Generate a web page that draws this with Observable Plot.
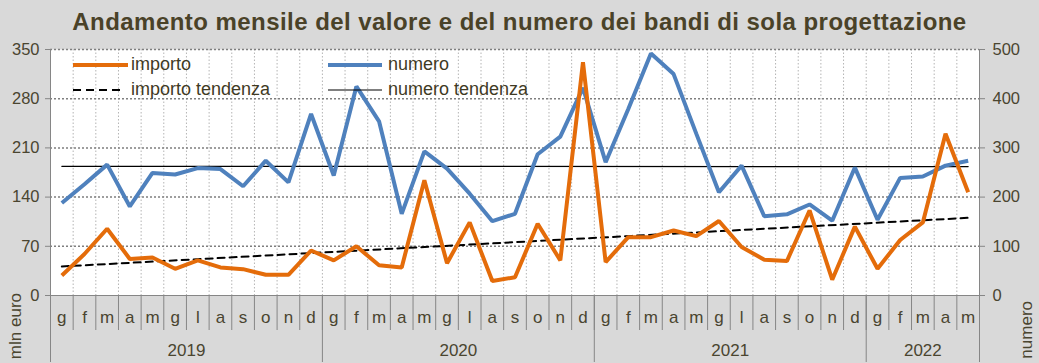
<!DOCTYPE html>
<html>
<head>
<meta charset="utf-8">
<script src="https://cdn.jsdelivr.net/npm/d3@7"></script>
<script src="https://cdn.jsdelivr.net/npm/@observablehq/plot@0.6"></script>
<style>
  html, body { margin: 0; padding: 0; background: #d9d9d9; }
  #wrap { position: relative; width: 1039px; height: 363px; overflow: hidden; background: #d9d9d9; font-family: "Liberation Sans", Arial, sans-serif; color: #4a4530; }
  #title { height: 40px; line-height: 44px; text-align: center; font-weight: bold; font-size: 24px; letter-spacing: 0.45px; color: #4a4228; white-space: nowrap; }
  .leg { position: absolute; font-size: 18px; color: #3f3a24; white-space: nowrap; }
  .sw { position: absolute; }
  .ylab { position: absolute; font-size: 17px; line-height: 18px; color: #4a4530; writing-mode: vertical-rl; transform: rotate(180deg); white-space: nowrap; }
</style>
</head>
<body>
<div id="wrap">
  <div id="title">Andamento mensile del valore e del numero dei bandi di sola progettazione</div>
  <div id="chart"></div>
</div>
<script>
// ---- data ----
const monthLetters = ["g","f","m","a","m","g","l","a","s","o","n","d"];
const years = ["2019","2020","2021","2022"];
const monthsPerYear = [12, 12, 12, 5];
// importo (mln euro), Jan 2019 .. May 2022
const importo = [28.5, 59, 95, 52, 54, 38, 50, 40, 37.5, 29.5, 29.5, 64,
                 50, 70, 43, 40, 164, 46, 104, 20.5, 26, 102, 50, 332,
                 47.5, 83, 83, 92.5, 84.5, 106, 69, 51, 49, 121, 22.5, 98,
                 38, 79, 104, 230, 147];
// numero dei bandi
const numero = [188, 226, 266, 181, 249, 246, 259, 257, 222, 274, 230, 369,
                244, 425, 354, 166, 293, 258, 207, 151, 166, 287, 323, 422,
                271, 379, 492, 450, 329, 210, 264, 161, 165, 185, 152, 260,
                154, 239, 242, 264, 274];
// trend lines (first and last month values)
const importoTrend = [41.3, 110.5];
const numeroTrend = [262.5, 262];
const leftTicks = [0, 70, 140, 210, 280, 350];
const rightTicks = [0, 100, 200, 300, 400, 500];

// ---- build ----
const n = importo.length;
const idx = d3.range(n);
const monthLabels = [];
const yearStarts = [];
const yearCenters = [];
let pos = 0;
monthsPerYear.forEach((c, yi) => {
  yearStarts.push(pos - 0.5);
  yearCenters.push(pos + (c - 1) / 2);
  for (let j = 0; j < c; j++) monthLabels.push(monthLetters[j]);
  pos += c;
});
yearStarts.push(pos - 0.5);
const boundaries = d3.range(n + 1).map(i => i - 0.5);
const k = 350 / 500;

const impData = idx.map(i => ({i, v: importo[i]}));
const numData = idx.map(i => ({i, v: numero[i] * k}));
const impTrendData = [{i: 0, v: importoTrend[0]}, {i: n - 1, v: importoTrend[1]}];
const numTrendData = [{i: 0, v: numeroTrend[0] * k}, {i: n - 1, v: numeroTrend[1] * k}];

const axisColor = "#868686";
const textColor = "#4a4530";

const chart = Plot.plot({
  width: 1039,
  height: 323,
  marginLeft: 50,
  marginRight: 60,
  marginTop: 9,
  marginBottom: 68,
  x: {type: "linear", domain: [-0.5, n - 0.5], axis: null, label: null},
  y: {domain: [0, 350], axis: null, label: null},
  style: {background: "transparent", fontFamily: "'Liberation Sans', Arial, sans-serif", fontSize: "16px", color: textColor, overflow: "visible"},
  marks: [
    Plot.frame({fill: "white", stroke: null}),
    Plot.gridX(boundaries.slice(1, -1), {stroke: "#b4b4b4", strokeOpacity: 1, strokeDasharray: "1.5,2"}),
    Plot.gridY(leftTicks.slice(1), {stroke: "#7f7f7f", strokeOpacity: 1, strokeDasharray: "2,2", strokeWidth: 1.5}),
    // month separators
    Plot.axisX({ticks: boundaries, tickSize: 35, tickFormat: () => "", label: null, stroke: axisColor, strokeOpacity: 1}),
    // year separators
    Plot.axisX({ticks: yearStarts, tickSize: 67, tickFormat: () => "", label: null, stroke: axisColor, strokeOpacity: 1}),
    // month letters
    Plot.axisX({ticks: idx, tickSize: 0, tickPadding: 15, label: null, tickFormat: i => monthLabels[i], fontSize: 17, fill: textColor}),
    // years
    Plot.axisX({ticks: yearCenters, tickSize: 0, tickPadding: 48, label: null, tickFormat: (d, j) => years[j], fontSize: 17, fill: textColor}),
    // left axis
    Plot.axisY({anchor: "left", ticks: leftTicks, tickSize: 5, tickPadding: 6, label: null, stroke: axisColor, strokeOpacity: 1, fontSize: 16.5, fill: textColor}),
    // right axis
    Plot.axisY({anchor: "right", ticks: rightTicks.map(t => t * k), tickSize: 5, tickPadding: 8, label: null, tickFormat: d => String(Math.round(d / k)), stroke: axisColor, strokeOpacity: 1, fontSize: 16.5, fill: textColor}),
    Plot.ruleX([-0.5, n - 0.5], {stroke: axisColor}),
    Plot.ruleY([0], {stroke: axisColor}),
    // trends
    Plot.line(numTrendData, {x: "i", y: "v", stroke: "#000", strokeWidth: 1.2}),
    Plot.line(impTrendData, {x: "i", y: "v", stroke: "#000", strokeWidth: 2, strokeDasharray: "7,5"}),
    // series
    Plot.line(numData, {x: "i", y: "v", stroke: "#4f81bd", strokeWidth: 4, strokeLinejoin: "miter", strokeLinecap: "butt"}),
    Plot.line(impData, {x: "i", y: "v", stroke: "#e46c0a", strokeWidth: 4, strokeLinejoin: "miter", strokeLinecap: "butt"})
  ]
});
document.getElementById("chart").appendChild(chart);

// legend & axis titles (HTML overlay)
const wrap = document.getElementById("wrap");
function swatch(x, y, w, color, width, dash) {
  const ns = "http://www.w3.org/2000/svg";
  const s = document.createElementNS(ns, "svg");
  s.setAttribute("class", "sw");
  s.setAttribute("width", w);
  s.setAttribute("height", 8);
  s.style.left = x + "px";
  s.style.top = (y - 4) + "px";
  const l = document.createElementNS(ns, "line");
  l.setAttribute("x1", 0); l.setAttribute("x2", w);
  l.setAttribute("y1", 4); l.setAttribute("y2", 4);
  l.setAttribute("stroke", color);
  l.setAttribute("stroke-width", width);
  if (dash) l.setAttribute("stroke-dasharray", dash);
  s.appendChild(l);
  wrap.appendChild(s);
}
function label(x, y, txt) {
  const d = document.createElement("div");
  d.className = "leg";
  d.style.left = x + "px";
  d.style.top = (y - 11) + "px";
  d.textContent = txt;
  wrap.appendChild(d);
}
swatch(73, 65, 55, "#e46c0a", 4);
label(131, 65, "importo");
swatch(328, 65, 54, "#4f81bd", 4);
label(388, 65, "numero");
swatch(73, 90, 50, "#000", 2, "8,5");
label(131, 90, "importo tendenza");
swatch(328, 90, 54, "#000", 1.2);
label(388, 90, "numero tendenza");

function ylab(x, y, txt) {
  const d = document.createElement("div");
  d.className = "ylab";
  d.style.left = x + "px";
  d.style.top = y + "px";
  d.textContent = txt;
  wrap.appendChild(d);
}
ylab(7, 293, "mln euro");
ylab(1018, 301, "numero");
</script>
</body>
</html>
